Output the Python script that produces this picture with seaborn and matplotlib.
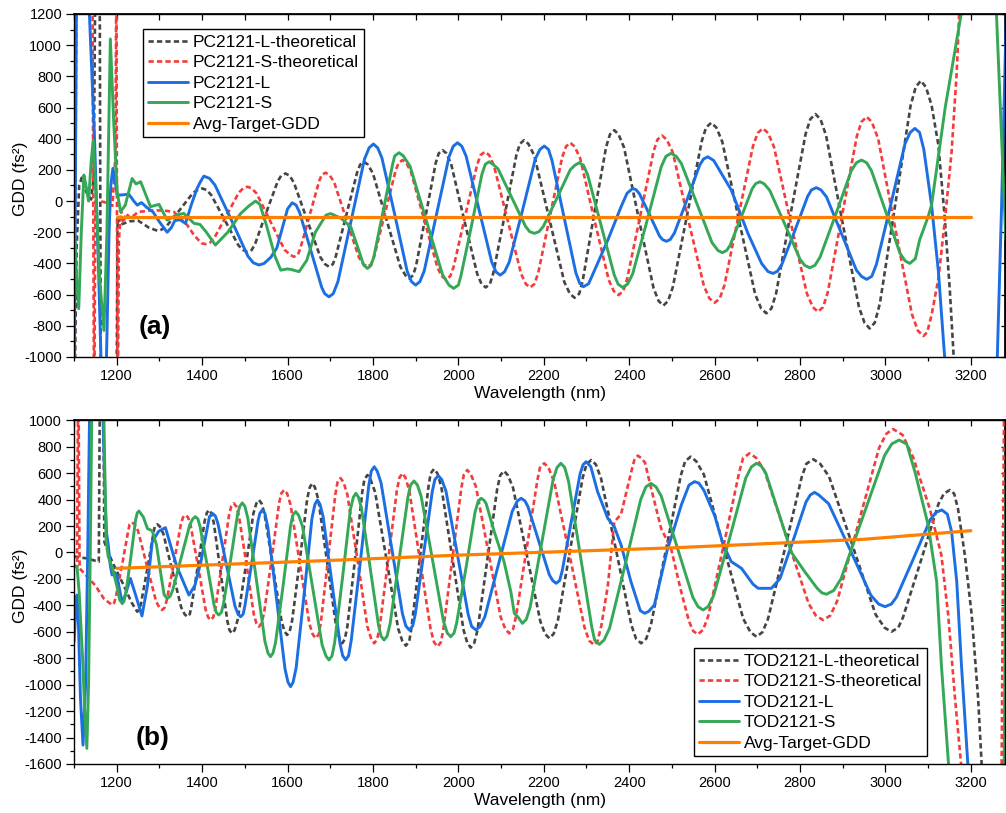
import matplotlib
matplotlib.use("Agg")
import matplotlib.pyplot as plt
import pandas as pd
import seaborn as sns
from matplotlib.ticker import MultipleLocator

# ---------------- data (wavelength nm, GDD fs^2) ----------------
# Panel (a)
A_L_THEO = [(1100,-1500),(1106,-300),(1112,100),(1118,150),(1128,60),(1140,10),(1146,150),(1150,1500),(1160,1500),(1163,-1500),(1199,-1500),(1202,-110),(1210,-150),(1230,-130),(1250,-125),(1275,-170),(1295,-190),(1305,-183),(1316,-163),(1348,-55),(1379,54),(1390,72),(1400,81),(1410,72),(1421,40),(1453,-122),(1485,-284),(1496,-314),(1506,-325),(1516,-314),(1524,-275),(1550,-74),(1577,127),(1585,163),(1595,177),(1605,163),(1615,117),(1646,-122),(1677,-361),(1688,-405),(1697,-421),(1706,-405),(1713,-354),(1738,-85),(1763,185),(1770,234),(1779,252),(1788,234),(1800,177),(1832,-122),(1864,-421),(1876,-476),(1885,-496),(1894,-476),(1901,-414),(1924,-85),(1947,245),(1954,306),(1963,327),(1972,306),(1983,239),(2013,-114),(2044,-466),(2054,-531),(2064,-554),(2074,-531),(2082,-460),(2109,-82),(2136,297),(2144,367),(2154,391),(2164,367),(2178,290),(2213,-115),(2248,-519),(2261,-594),(2272,-620),(2283,-594),(2291,-513),(2318,-83),(2346,348),(2355,428),(2365,455),(2375,428),(2388,343),(2422,-108),(2457,-558),(2469,-641),(2480,-670),(2491,-641),(2502,-553),(2536,-84),(2570,385),(2580,472),(2592,502),(2604,472),(2618,380),(2656,-109),(2695,-598),(2709,-689),(2721,-720),(2733,-689),(2744,-592),(2778,-81),(2813,430),(2824,525),(2836,558),(2848,525),(2861,421),(2899,-130),(2938,-680),(2951,-780),(2963,-817),(2975,-780),(2987,-658),(3023,-22),(3059,613),(3071,732),(3083,772),(3095,730),(3108,616),(3124,360),(3139,-110),(3151,-580),(3162,-1100),(3175,-1600)]
A_S_THEO = [(1100,-1500),(1106,1500),(1143,1500),(1147,-1500),(1150,0),(1170,-5),(1190,-30),(1197,300),(1199,1500),(1202,-1500),(1205,-250),(1210,-60),(1215,-140),(1222,-80),(1232,-110),(1250,-70),(1280,-60),(1310,-60),(1334,-70),(1365,-154),(1381,-218),(1398,-270),(1408,-276),(1418,-267),(1428,-239),(1457,-92),(1486,55),(1496,82),(1506,92),(1516,82),(1528,47),(1560,-132),(1593,-312),(1606,-345),(1615,-357),(1624,-345),(1630,-303),(1652,-88),(1674,128),(1680,168),(1689,182),(1698,168),(1709,122),(1738,-120),(1767,-361),(1778,-405),(1787,-421),(1796,-405),(1803,-353),(1828,-79),(1853,195),(1860,245),(1869,263),(1878,245),(1889,187),(1920,-120),(1951,-426),(1961,-482),(1971,-502),(1981,-482),(1989,-420),(2016,-93),(2044,234),(2052,295),(2062,316),(2072,295),(2083,229),(2115,-119),(2147,-467),(2158,-532),(2168,-554),(2178,-532),(2187,-461),(2215,-90),(2243,281),(2252,350),(2262,374),(2272,350),(2285,276),(2318,-115),(2352,-505),(2364,-578),(2375,-603),(2386,-578),(2395,-501),(2426,-92),(2457,318),(2466,394),(2477,420),(2488,394),(2502,313),(2538,-116),(2575,-545),(2588,-625),(2600,-652),(2612,-625),(2623,-540),(2656,-93),(2690,354),(2701,437),(2713,466),(2725,437),(2739,348),(2777,-122),(2816,-592),(2830,-680),(2842,-710),(2854,-680),(2865,-585),(2899,-85),(2933,416),(2944,508),(2956,541),(2968,508),(2983,400),(3022,-162),(3062,-725),(3076,-831),(3089,-866),(3098,-840),(3108,-731),(3124,-500),(3139,-130),(3155,316),(3167,830),(3175,1350),(3182,1700)]
A_L_MEAS = [(1100,-1500),(1106,1500),(1130,1500),(1136,1200),(1148,400),(1157,-400),(1164,-1100),(1170,-1500),(1176,-1000),(1182,-200),(1186,100),(1191,210),(1196,130),(1201,38),(1215,40),(1228,45),(1240,0),(1248,-26),(1258,-10),(1270,-40),(1285,-70),(1299,-130),(1318,-200),(1328,-170),(1336,-125),(1348,-120),(1361,-143),(1375,-20),(1388,80),(1396,124),(1404,160),(1417,146),(1430,103),(1469,-125),(1507,-353),(1520,-396),(1533,-410),(1545,-400),(1561,-360),(1575,-300),(1590,-150),(1600,-50),(1611,-11),(1620,-26),(1628,-71),(1654,-313),(1680,-554),(1687,-594),(1697,-614),(1707,-594),(1718,-516),(1749,-124),(1780,268),(1791,342),(1801,366),(1811,342),(1821,276),(1851,-87),(1880,-449),(1890,-516),(1900,-539),(1910,-516),(1920,-448),(1949,-83),(1978,283),(1988,352),(1998,374),(2008,352),(2018,289),(2048,-51),(2078,-390),(2088,-454),(2098,-475),(2108,-454),(2119,-392),(2150,-61),(2180,270),(2191,331),(2201,353),(2211,331),(2219,263),(2247,-98),(2275,-459),(2284,-527),(2293,-549),(2305,-530),(2326,-400),(2350,-250),(2381,-36),(2395,50),(2408,81),(2416,73),(2424,47),(2448,-89),(2471,-224),(2478,-247),(2487,-258),(2496,-247),(2506,-204),(2536,13),(2565,230),(2574,270),(2584,284),(2598,260),(2616,177),(2639,71),(2678,-207),(2710,-400),(2725,-452),(2737,-464),(2747,-450),(2757,-409),(2788,-189),(2818,31),(2827,72),(2838,86),(2849,72),(2862,27),(2897,-208),(2932,-443),(2944,-483),(2956,-502),(2968,-483),(2979,-405),(3013,-17),(3046,369),(3058,440),(3069,466),(3080,440),(3090,330),(3108,-26),(3124,-450),(3140,-1050),(3150,-1500),(3255,-1500),(3262,-1000),(3272,-30),(3284,1300)]
A_S_MEAS = [(1100,-110),(1106,-500),(1111,-690),(1117,-200),(1123,167),(1128,100),(1134,0),(1140,250),(1145,391),(1152,0),(1160,-500),(1170,-830),(1177,-200),(1185,1040),(1193,500),(1201,60),(1209,-68),(1220,-26),(1236,145),(1245,110),(1256,124),(1268,40),(1279,-36),(1299,-21),(1318,-122),(1340,-90),(1357,-79),(1381,-143),(1395,-150),(1410,-200),(1431,-282),(1460,-200),(1490,-80),(1510,-30),(1525,0),(1535,-20),(1550,-150),(1570,-350),(1584,-443),(1600,-435),(1610,-440),(1627,-453),(1645,-380),(1665,-200),(1690,-90),(1701,-80),(1725,-110),(1748,-165),(1764,-293),(1778,-410),(1787,-432),(1795,-414),(1802,-358),(1824,-61),(1846,236),(1851,290),(1861,310),(1871,290),(1887,223),(1925,-125),(1963,-473),(1978,-539),(1989,-560),(2000,-539),(2006,-479),(2031,-154),(2055,171),(2063,236),(2072,252),(2081,236),(2093,206),(2125,23),(2157,-161),(2167,-196),(2178,-207),(2189,-196),(2199,-162),(2231,20),(2262,201),(2273,230),(2283,246),(2293,230),(2303,166),(2334,-154),(2365,-474),(2374,-533),(2385,-554),(2396,-533),(2408,-468),(2442,-124),(2475,220),(2486,287),(2498,306),(2510,287),(2522,242),(2558,-13),(2594,-267),(2608,-317),(2618,-331),(2628,-317),(2636,-286),(2662,-105),(2688,79),(2696,111),(2706,124),(2716,111),(2729,69),(2765,-152),(2800,-373),(2811,-412),(2823,-428),(2835,-412),(2847,-359),(2884,-83),(2920,194),(2932,246),(2944,263),(2956,246),(2967,197),(3001,-69),(3034,-334),(3046,-383),(3057,-400),(3070,-370),(3080,-250),(3100,-100),(3108,-26),(3140,600),(3177,1193),(3190,1600),(3250,1600),(3260,1200),(3282,-250)]
A_TARGET = [(1200,-100),(3200,-100)]

# Panel (b)
B_L_THEO = [(1100,-30),(1130,-45),(1158,-70),(1161,1500),(1168,1500),(1171,80),(1180,0),(1193,-95),(1216,-246),(1235,-380),(1248,-448),(1253,-432),(1257,-382),(1272,-118),(1286,147),(1289,196),(1295,213),(1301,196),(1309,143),(1330,-137),(1351,-416),(1359,-467),(1365,-486),(1371,-467),(1375,-405),(1391,-82),(1406,241),(1411,300),(1416,322),(1421,300),(1427,229),(1443,-145),(1459,-519),(1464,-588),(1470,-612),(1476,-588),(1483,-511),(1502,-108),(1520,296),(1527,372),(1533,397),(1539,372),(1546,295),(1566,-114),(1586,-522),(1593,-597),(1599,-624),(1605,-597),(1611,-509),(1629,-51),(1646,408),(1652,494),(1658,523),(1664,494),(1672,402),(1693,-82),(1714,-566),(1722,-656),(1728,-687),(1734,-656),(1740,-560),(1758,-51),(1775,459),(1780,554),(1787,586),(1794,554),(1805,457),(1832,-60),(1859,-576),(1869,-672),(1877,-705),(1885,-672),(1890,-571),(1910,-37),(1930,498),(1935,598),(1943,632),(1951,598),(1960,497),(1986,-44),(2012,-585),(2021,-686),(2029,-720),(2037,-686),(2045,-586),(2068,-52),(2091,483),(2098,584),(2107,617),(2116,584),(2128,490),(2160,-16),(2192,-522),(2203,-616),(2213,-649),(2223,-616),(2233,-514),(2262,26),(2291,565),(2300,666),(2311,700),(2322,666),(2334,561),(2370,7),(2405,-548),(2416,-652),(2428,-687),(2440,-652),(2451,-546),(2486,19),(2521,584),(2531,690),(2544,725),(2557,690),(2575,589),(2621,44),(2667,-501),(2684,-603),(2698,-637),(2712,-603),(2725,-503),(2765,34),(2804,571),(2815,672),(2831,705),(2847,672),(2868,575),(2923,53),(2977,-469),(2998,-569),(3014,-599),(3030,-569),(3041,-492),(3083,-63),(3124,366),(3137,446),(3151,473),(3161,445),(3170,330),(3186,-20),(3202,-470),(3217,-1100),(3227,-1700)]
B_S_THEO = [(1100,-100),(1107,-110),(1110,1500),(1113,-120),(1130,-180),(1150,-250),(1170,-350),(1189,-397),(1194,-381),(1198,-335),(1213,-85),(1227,166),(1230,212),(1236,228),(1242,212),(1250,162),(1271,-104),(1292,-369),(1300,-418),(1306,-435),(1312,-418),(1317,-363),(1334,-76),(1350,212),(1355,265),(1361,284),(1367,265),(1373,205),(1391,-114),(1408,-432),(1414,-490),(1420,-511),(1426,-490),(1431,-423),(1447,-70),(1463,284),(1468,349),(1474,372),(1480,349),(1486,279),(1504,-95),(1521,-468),(1527,-536),(1533,-561),(1539,-536),(1545,-458),(1563,-44),(1580,370),(1585,446),(1592,473),(1599,446),(1607,361),(1629,-88),(1651,-537),(1659,-620),(1666,-649),(1673,-620),(1678,-528),(1695,-43),(1712,442),(1717,532),(1724,563),(1731,532),(1740,438),(1764,-62),(1787,-562),(1796,-655),(1803,-687),(1810,-655),(1816,-558),(1836,-44),(1856,470),(1862,567),(1869,599),(1876,567),(1885,468),(1910,-57),(1935,-581),(1943,-679),(1951,-712),(1959,-679),(1965,-578),(1986,-44),(2007,490),(2013,592),(2021,624),(2029,592),(2041,500),(2070,6),(2099,-488),(2110,-580),(2119,-612),(2128,-580),(2135,-483),(2160,32),(2185,546),(2191,642),(2201,675),(2211,642),(2224,538),(2260,-13),(2295,-563),(2306,-666),(2318,-700),(2326,-670),(2335,-550),(2350,-250),(2365,230),(2381,290),(2404,600),(2412,700),(2420,733),(2428,715),(2437,680),(2451,490),(2475,180),(2498,30),(2522,-300),(2540,-520),(2550,-595),(2561,-619),(2573,-585),(2585,-482),(2622,66),(2658,613),(2667,717),(2682,750),(2697,717),(2716,624),(2768,120),(2820,-385),(2837,-477),(2854,-511),(2871,-477),(2887,-367),(2936,212),(2985,790),(3002,898),(3018,934),(3040,890),(3065,720),(3085,520),(3104,330),(3131,-19),(3147,-473),(3163,-1104),(3180,-1700),(3272,-1700),(3278,1200),(3282,1500)]
B_L_MEAS = [(1100,-675),(1104,-450),(1107,-322),(1110,-500),(1115,-1100),(1121,-1457),(1127,-1000),(1132,0),(1137,1200),(1140,1500),(1163,1500),(1168,1000),(1172,500),(1176,150),(1180,60),(1185,-100),(1189,-170),(1195,-150),(1200,-170),(1213,-385),(1222,-300),(1232,-196),(1245,-330),(1259,-480),(1272,-250),(1283,80),(1298,160),(1314,188),(1340,-100),(1369,-322),(1383,-250),(1397,-70),(1410,150),(1417,270),(1424,296),(1431,276),(1437,218),(1457,-95),(1477,-408),(1484,-466),(1490,-486),(1496,-466),(1500,-405),(1516,-82),(1531,241),(1535,295),(1541,322),(1547,295),(1554,188),(1574,-347),(1594,-881),(1601,-981),(1607,-1015),(1613,-981),(1620,-874),(1639,-309),(1657,256),(1664,364),(1670,397),(1676,364),(1683,276),(1703,-208),(1723,-692),(1729,-780),(1736,-813),(1743,-780),(1749,-667),(1770,-82),(1790,503),(1796,615),(1803,649),(1810,615),(1819,526),(1844,32),(1869,-463),(1877,-556),(1885,-586),(1893,-556),(1899,-469),(1919,-3),(1939,464),(1945,552),(1953,581),(1961,552),(1971,464),(1997,-3),(2023,-469),(2031,-559),(2041,-586),(2051,-559),(2062,-486),(2094,-88),(2126,310),(2138,390),(2147,410),(2156,390),(2163,346),(2188,89),(2213,-169),(2221,-213),(2229,-233),(2237,-213),(2243,-141),(2264,227),(2285,595),(2292,664),(2299,687),(2310,650),(2326,460),(2350,258),(2365,196),(2381,57),(2404,-220),(2426,-440),(2436,-460),(2446,-445),(2459,-397),(2490,31),(2498,107),(2522,359),(2540,510),(2553,536),(2563,525),(2575,470),(2600,280),(2620,60),(2639,-69),(2663,-120),(2690,-240),(2702,-271),(2733,-271),(2753,-198),(2784,92),(2814,382),(2824,435),(2834,455),(2844,435),(2867,369),(2917,23),(2966,-324),(2984,-390),(2999,-410),(3014,-390),(3026,-337),(3066,-44),(3105,249),(3119,304),(3132,322),(3145,290),(3155,157),(3167,-220),(3178,-850),(3195,-1700)]
B_S_MEAS = [(1100,-95),(1107,-110),(1112,-300),(1120,-800),(1125,-1200),(1130,-1482),(1134,-1000),(1138,0),(1142,1200),(1145,1500),(1166,1500),(1170,1000),(1175,100),(1180,-30),(1190,-120),(1200,-250),(1207,-360),(1213,-385),(1217,-368),(1221,-315),(1233,-36),(1244,244),(1248,300),(1252,314),(1262,270),(1272,180),(1283,165),(1293,60),(1305,-200),(1311,-320),(1318,-347),(1325,-332),(1331,-285),(1351,-38),(1371,209),(1378,254),(1384,271),(1390,254),(1395,197),(1412,-101),(1428,-399),(1433,-453),(1439,-473),(1445,-453),(1450,-388),(1467,-49),(1483,290),(1488,350),(1494,375),(1500,350),(1507,259),(1527,-207),(1547,-672),(1554,-760),(1560,-788),(1566,-760),(1572,-678),(1590,-240),(1607,199),(1612,281),(1619,309),(1626,281),(1635,197),(1658,-252),(1681,-701),(1690,-783),(1697,-813),(1704,-783),(1710,-687),(1729,-183),(1747,322),(1754,418),(1760,448),(1766,418),(1773,337),(1793,-107),(1813,-551),(1819,-633),(1826,-662),(1833,-633),(1840,-542),(1861,-61),(1882,421),(1888,511),(1896,541),(1904,511),(1913,423),(1939,-48),(1965,-519),(1974,-609),(1982,-637),(1990,-609),(1996,-532),(2018,-114),(2039,305),(2046,384),(2053,410),(2060,395),(2065,370),(2084,157),(2107,-70),(2123,-300),(2131,-460),(2140,-490),(2150,-536),(2159,-506),(2168,-415),(2195,70),(2222,554),(2231,643),(2240,675),(2249,643),(2258,538),(2285,-10),(2312,-558),(2319,-663),(2330,-695),(2341,-663),(2354,-573),(2391,-86),(2427,401),(2439,496),(2451,523),(2463,496),(2475,427),(2512,44),(2549,-339),(2561,-409),(2573,-435),(2585,-409),(2598,-324),(2636,120),(2673,564),(2686,647),(2698,675),(2709,655),(2720,600),(2740,400),(2780,0),(2811,-145),(2840,-270),(2851,-305),(2862,-316),(2879,-287),(2896,-199),(2947,268),(2998,734),(3015,822),(3032,851),(3050,820),(3070,600),(3100,210),(3120,-220),(3131,-850),(3150,-1700),(3278,-1700),(3284,1200),(3290,1500)]
B_TARGET = [(1200,-120),(1700,-60),(2000,-20),(2500,35),(2950,100),(3200,165)]

LABELS_A = ["PC2121-L-theoretical", "PC2121-S-theoretical", "PC2121-L", "PC2121-S", "Avg-Target-GDD"]
LABELS_B = ["TOD2121-L-theoretical", "TOD2121-S-theoretical", "TOD2121-L", "TOD2121-S", "Avg-Target-GDD"]

# ---------------- style ----------------
sns.set_theme(style="ticks")
plt.rcParams['font.family'] = ['Liberation Sans', 'DejaVu Sans']
plt.rcParams['axes.unicode_minus'] = False
for k in ['text.color', 'axes.labelcolor', 'xtick.color', 'ytick.color', 'axes.edgecolor']:
    plt.rcParams[k] = 'black'

COLORS = ['#454545', '#f53b3b', '#1c6fe3', '#35a857', '#ff8000']
WIDTHS = [1.9, 1.9, 2.1, 2.1, 2.3]
DASHED = [True, True, False, False, False]

fig = plt.figure(figsize=(10.06, 8.13), dpi=100)
ax_a = fig.add_axes([0.0736, 0.5609, 0.9254, 0.4219])
ax_b = fig.add_axes([0.0736, 0.0603, 0.9254, 0.4227])


def draw(ax, series, labels, ylim, leg_kw, tag, tag_xy, ylab_y):
    handles = []
    for pairs, lab, col, lw, dashed in zip(series, labels, COLORS, WIDTHS, DASHED):
        df = pd.DataFrame(pairs, columns=['wl', 'gdd'])
        sns.lineplot(data=df, x='wl', y='gdd', ax=ax, color=col, linewidth=lw,
                     sort=False, estimator=None, legend=False)
        ln = ax.lines[-1]
        ln.set_label(lab)
        if dashed:
            ln.set_linestyle((0, (2.0, 1.2)))
        ln.set_solid_joinstyle('round')
        ln.set_dash_joinstyle('round')
        handles.append(ln)
    ax.set_xlim(1100, 3280)
    ax.set_ylim(*ylim)
    ax.xaxis.set_major_locator(MultipleLocator(200))
    ax.xaxis.set_minor_locator(MultipleLocator(100))
    ax.yaxis.set_major_locator(MultipleLocator(200))
    ax.yaxis.set_minor_locator(MultipleLocator(100))
    ax.tick_params(which='both', direction='out', top=False, right=False, labelsize=10.5,
                   width=0.9, pad=3)
    ax.tick_params(which='major', length=5.5)
    ax.tick_params(which='minor', length=3)
    for s in ax.spines.values():
        s.set_color('black')
        s.set_linewidth(1.0)
    sx = ax.secondary_xaxis('top')
    sx.xaxis.set_major_locator(MultipleLocator(100))
    sx.tick_params(axis='x', direction='in', length=4, width=0.9, labeltop=False)
    sy = ax.secondary_yaxis('right')
    sy.yaxis.set_major_locator(MultipleLocator(200))
    sy.tick_params(axis='y', direction='in', length=3, width=0.9, labelright=False)
    ax.set_xlabel("Wavelength (nm)", fontsize=12.5)
    ax.set_ylabel("GDD (fs²)", fontsize=12.5)
    ax.xaxis.set_label_coords(0.5, -0.085)
    ax.yaxis.set_label_coords(-0.0494, ylab_y)
    leg = ax.legend(handles=handles, labels=labels, fontsize=12.5, frameon=True, fancybox=False,
                    framealpha=1, edgecolor='black', borderaxespad=0, handlelength=2.3,
                    handletextpad=0.25, labelspacing=0.31, borderpad=0.3, **leg_kw)
    leg.get_frame().set_linewidth(1.0)
    ax.text(tag_xy[0], tag_xy[1], tag, transform=ax.transAxes, fontsize=19,
            fontweight='bold', ha='center', va='center')


draw(ax_a, [A_L_THEO, A_S_THEO, A_L_MEAS, A_S_MEAS, A_TARGET], LABELS_A, (-1000, 1200),
     dict(loc='upper left', bbox_to_anchor=(0.0741, 0.955)), "(a)", (0.087, 0.087), 0.52)
draw(ax_b, [B_L_THEO, B_S_THEO, B_L_MEAS, B_S_MEAS, B_TARGET], LABELS_B, (-1600, 1000),
     dict(loc='lower left', bbox_to_anchor=(0.666, 0.0233)), "(b)", (0.084, 0.076), 0.519)

fig.savefig("out.png", dpi=100)
